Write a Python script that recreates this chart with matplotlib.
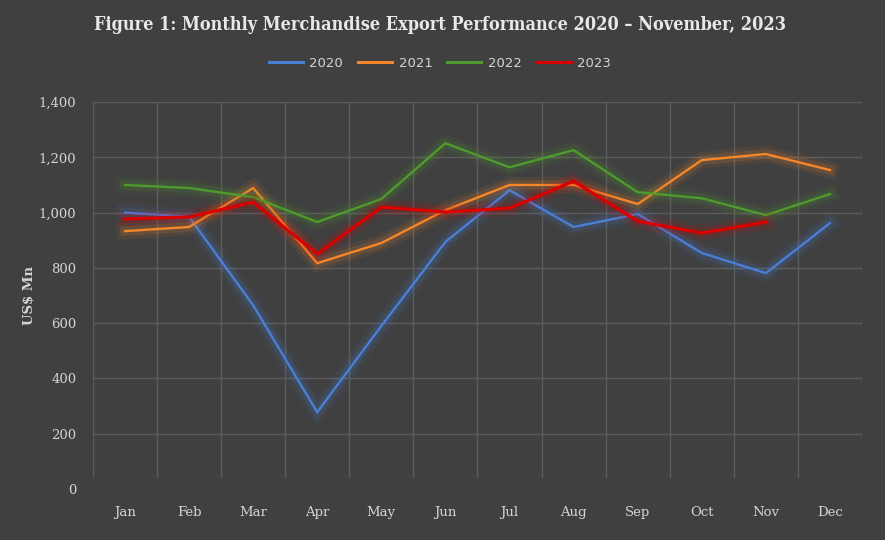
import numpy as np
import matplotlib
matplotlib.use("Agg")
import matplotlib.pyplot as plt
import matplotlib.patheffects as pe

months = ["Jan", "Feb", "Mar", "Apr", "May", "Jun", "Jul", "Aug", "Sep", "Oct", "Nov", "Dec"]
exports_2020 = [1000, 985, 665, 278, 590, 894, 1081, 948, 995, 854, 781, 962]
exports_2021 = [933, 948, 1089, 817, 890, 1009, 1100, 1100, 1031, 1190, 1212, 1154]
exports_2022 = [1100, 1089, 1056, 966, 1049, 1251, 1164, 1226, 1074, 1052, 991, 1067]
exports_2023 = [977, 984, 1038, 850, 1020, 1002, 1016, 1114, 969, 926, 966]

series = [
    ("2020", exports_2020, "#4a7fd6", 1.7),
    ("2021", exports_2021, "#f5862a", 1.7),
    ("2022", exports_2022, "#4f9a2c", 1.7),
    ("2023", exports_2023, "#d90000", 2.3),
]

bg = "#404040"
txt = "#d4d4d4"
grid = "#5c5c5c"
serif = "DejaVu Serif"

fig = plt.figure(figsize=(8.85, 5.4), dpi=100, facecolor=bg)
ax = fig.add_axes([0.105, 0.0944, 0.869, 0.7166], facecolor=bg)

x = np.arange(len(months))
for name, vals, col, lw in series:
    ax.plot(x[:len(vals)], vals, color=col, lw=lw, label=name,
            solid_joinstyle="miter",
            path_effects=[pe.Stroke(linewidth=12, foreground=col, alpha=0.08),
                          pe.Stroke(linewidth=7, foreground=col, alpha=0.15),
                          pe.Normal()])

ax.set_xlim(-0.5, 11.5)
ax.set_ylim(0, 1400)
ax.set_yticks(np.arange(0, 1401, 200))
ax.set_yticklabels([f"{v:,}" for v in range(0, 1401, 200)])
ax.set_xticks(x)
ax.set_xticklabels(months)

# horizontal gridlines (no line at zero), vertical lines between months fading out near the bottom
for v in range(200, 1401, 200):
    ax.axhline(v, color=grid, lw=1.0, zorder=0)
for b in np.arange(-0.5, 12, 1):
    ax.axvline(b, ymin=0.03, ymax=1, color=grid, lw=1.0, zorder=0)

for s in ax.spines.values():
    s.set_visible(False)
ax.tick_params(which="both", length=0, colors=txt)
ax.tick_params(axis="x", pad=12)
ax.tick_params(axis="y", pad=12)
for lab in ax.get_xticklabels() + ax.get_yticklabels():
    lab.set_fontfamily(serif)
    lab.set_fontsize(9.5)
    lab.set_color(txt)

ax.set_ylabel("US$ Mn", fontfamily=serif, fontweight="bold", fontsize=9.5, color=txt)
ax.yaxis.set_label_coords(-0.075, 0.5)

fig.text(0.497, 0.953, "Figure 1: Monthly Merchandise Export Performance 2020 \u2013 November, 2023",
         ha="center", va="center", fontfamily=serif, fontstretch="condensed",
         fontweight="bold", fontsize=13, color="#e8e8e8")

leg = fig.legend(loc="center", bbox_to_anchor=(0.497, 0.883), ncol=4, frameon=False,
                 handlelength=2.6, columnspacing=1.1, handletextpad=0.5,
                 prop={"family": "DejaVu Sans", "size": 9.5})
for t in leg.get_texts():
    t.set_color(txt)
for h in leg.get_lines():
    h.set_path_effects([])
    h.set_linewidth(2.2)

fig.savefig("out.png", dpi=100, facecolor=bg)
